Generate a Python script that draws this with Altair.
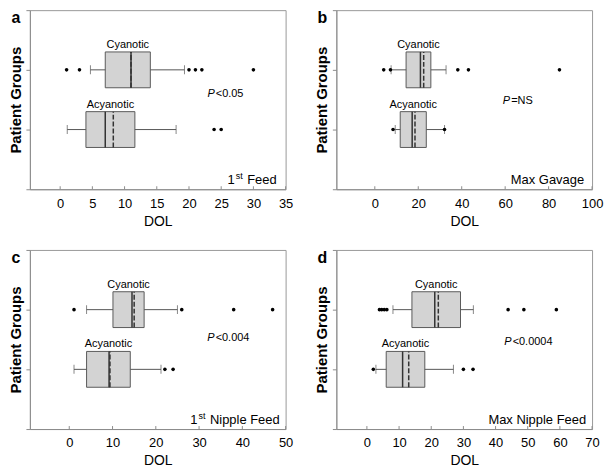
import altair as alt
import pandas as pd

groups = ["Cyanotic", "Acyanotic"]
group_pos = [2, 1]

# ---- Panel a: 1st Feed ----
a_wlo = [4.7, 1.1]
a_q1 = [7.0, 4.0]
a_med = [11.0, 7.0]
a_mean = [11.0, 8.25]
a_q3 = [14.0, 11.6]
a_whi = [19.3, 18.0]
a_out_cy = [1.0, 3.0, 20.0, 21.0, 22.0, 30.0]
a_out_ac = [23.9, 25.0]

# ---- Panel b: Max Gavage ----
b_wlo = [7.5, 9.4]
b_q1 = [14.4, 11.7]
b_med = [21.0, 17.2]
b_mean = [22.5, 18.5]
b_q3 = [25.8, 23.7]
b_whi = [32.8, 32.1]
b_out_cy = [4.1, 7.2, 38.2, 43.1, 85.0]
b_out_ac = [8.4, 32.1]

# ---- Panel c: 1st Nipple Feed ----
c_wlo = [4.0, 1.1]
c_q1 = [10.1, 4.0]
c_med = [14.5, 9.2]
c_mean = [15.0, 9.4]
c_q3 = [17.3, 14.1]
c_whi = [25.0, 21.2]
c_out_cy = [1.1, 26.0, 38.0, 47.0]
c_out_ac = [22.1, 24.0]

# ---- Panel d: Max Nipple Feed ----
d_wlo = [8.1, 2.8]
d_q1 = [14.0, 6.0]
d_med = [21.1, 11.1]
d_mean = [22.2, 13.0]
d_q3 = [29.1, 18.0]
d_whi = [33.1, 26.9]
d_out_cy = [3.9, 4.6, 5.4, 6.2, 43.9, 48.8, 58.9]
d_out_ac = [2.0, 30.0, 33.0]

a_ticks = [0, 5, 10, 15, 20, 25, 30, 35]
b_ticks = [0, 20, 40, 60, 80, 100]
c_ticks = [0, 10, 20, 30, 40, 50]
d_ticks = [0, 10, 20, 30, 40, 50, 60, 70]

a_domain = [-4.7, 35]
b_domain = [-17.7, 100]
c_domain = [-9.1, 50]
d_domain = [-9.5, 70]

p_texts = ["<0.05", "=NS", "<0.004", "<0.0004"]
p_x = [24.0, 62.3, 33.6, 45.0]
p_y = [1.6, 1.47, 1.52, 1.45]
letters = ["a", "b", "c", "d"]
feed_main = ["Feed", "Max Gavage", "Nipple Feed", "Max Nipple Feed"]
feed_has_prefix = [True, False, True, False]

FONT = "Liberation Sans"
W = 257
H = 180
HALF = 0.3


def panel(i, wlo, q1, med, mean, q3, whi, out_cy, out_ac, ticks, domain, main_width, inset):
    box = pd.DataFrame({
        "group": groups, "pos": group_pos,
        "wlo": wlo, "q1": q1, "med": med, "mean": mean, "q3": q3, "whi": whi,
    })
    box["ylo"] = box["pos"] - HALF
    box["yhi"] = box["pos"] + HALF
    box["mid"] = (box["q1"] + box["q3"]) / 2
    outl = pd.DataFrame({
        "x": out_cy + out_ac,
        "pos": [group_pos[0]] * len(out_cy) + [group_pos[1]] * len(out_ac),
    })
    tick_df = pd.DataFrame({"t": ticks})
    pdf = pd.DataFrame({"px": [p_x[i]], "py": [p_y[i]], "txt": [p_texts[i]]})

    xscale = alt.Scale(domain=domain, nice=False, zero=False)
    yscale = alt.Scale(domain=[0, 3], nice=False, zero=False)
    xaxis = alt.Axis(values=ticks, tickSize=0, labelFontSize=13, labelPadding=8,
                     labelFlush=False, labelOverlap=False, title="DOL",
                     titleFontSize=14, titleFontWeight="normal", titlePadding=4,
                     grid=False)
    yaxis = alt.Axis(values=[0, 1, 2, 3], labels=False, tickSize=4, grid=False,
                     title="Patient Groups", titleFontSize=15,
                     titleFontWeight="bold", titlePadding=2)

    def X(f):
        return alt.X(f, type="quantitative", scale=xscale, axis=xaxis, title="DOL")

    def Y(f):
        return alt.Y(f, type="quantitative", scale=yscale, axis=yaxis,
                     title="Patient Groups")

    base = alt.Chart(box)
    whisk = base.mark_rule(color="#555555", strokeWidth=1).encode(
        x=X("wlo"), x2="whi", y=Y("pos"))
    caps_lo = base.mark_tick(color="#555555", orient="vertical", size=9,
                             thickness=1).encode(x=X("wlo"), y=Y("pos"))
    caps_hi = base.mark_tick(color="#555555", orient="vertical", size=9,
                             thickness=1).encode(x=X("whi"), y=Y("pos"))
    rect = base.mark_rect(fill="#d3d3d3", stroke="#5a5a5a", strokeWidth=1).encode(
        x=X("q1"), x2="q3", y=Y("ylo"), y2="yhi")
    median = base.mark_rule(color="#333333", strokeWidth=1.5).encode(
        x=X("med"), y=Y("ylo"), y2="yhi")
    meanl = base.mark_rule(color="#333333", strokeWidth=1.5,
                           strokeDash=[5, 2]).encode(
        x=X("mean"), y=Y("ylo"), y2="yhi")
    names = base.mark_text(font=FONT, fontSize=11, baseline="alphabetic",
                           dy=-4, color="black").encode(
        x=X("mid"), y=Y("yhi"), text="group:N")
    pts = alt.Chart(outl).mark_circle(color="black", size=13, opacity=1).encode(
        x=X("x"), y=Y("pos"))
    inner_ticks = alt.Chart(tick_df).mark_rule(color="#8c8c8c").encode(
        x=X("t"), y=alt.value(H), y2=alt.value(H - 3))
    p_italic = alt.Chart(pdf).mark_text(font=FONT, fontSize=11, fontStyle="italic",
                                        align="right", baseline="middle").encode(
        x=X("px"), y=Y("py"), text=alt.value("P"))
    p_rest = alt.Chart(pdf).mark_text(font=FONT, fontSize=11, align="left",
                                      baseline="middle", dx=1).encode(
        x=X("px"), y=Y("py"), text="txt:N")
    lab_df = pd.DataFrame({"l": [letters[i]], "m": [feed_main[i]]})
    letter = alt.Chart(lab_df).mark_text(font=FONT, fontSize=16, fontWeight="bold",
                                         align="center", baseline="alphabetic").encode(
        x=alt.value(-14), y=alt.value(13), text="l:N")
    R = W - inset
    main = alt.Chart(lab_df).mark_text(font=FONT, fontSize=13, align="right",
                                       baseline="alphabetic").encode(
        x=alt.value(R), y=alt.value(H - 5), text="m:N")
    layers = [whisk, caps_lo, caps_hi, rect, median, meanl, pts, names,
              inner_ticks, p_italic, p_rest, letter, main]
    if feed_has_prefix[i]:
        st_r = R - main_width - 4.5
        st = alt.Chart(lab_df).mark_text(font=FONT, fontSize=9, align="right",
                                         baseline="alphabetic").encode(
            x=alt.value(st_r), y=alt.value(H - 10), text=alt.value("st"))
        one = alt.Chart(lab_df).mark_text(font=FONT, fontSize=13, align="right",
                                          baseline="alphabetic").encode(
            x=alt.value(st_r - 8), y=alt.value(H - 5), text=alt.value("1"))
        layers += [st, one]
    return alt.layer(*layers).properties(width=W, height=H)


pa = panel(0, a_wlo, a_q1, a_med, a_mean, a_q3, a_whi, a_out_cy, a_out_ac,
           a_ticks, a_domain, 29.6, 9)
pb = panel(1, b_wlo, b_q1, b_med, b_mean, b_q3, b_whi, b_out_cy, b_out_ac,
           b_ticks, b_domain, 0, 8)
pc = panel(2, c_wlo, c_q1, c_med, c_mean, c_q3, c_whi, c_out_cy, c_out_ac,
           c_ticks, c_domain, 70, 6)
pd_ = panel(3, d_wlo, d_q1, d_med, d_mean, d_q3, d_whi, d_out_cy, d_out_ac,
            d_ticks, d_domain, 0, 6)

chart = alt.concat(pa, pb, pc, pd_, columns=2,
                   spacing={"row": 61, "column": 51}, bounds="flush").configure(
    padding=0, background="white"
).configure_view(stroke="#999999", strokeWidth=1).configure_axis(
    domainColor="#8c8c8c", tickColor="#8c8c8c", labelColor="black",
    titleColor="black", labelFont=FONT, titleFont=FONT
)

chart.save("out.html", embed_options={"renderer": "svg", "actions": False})
